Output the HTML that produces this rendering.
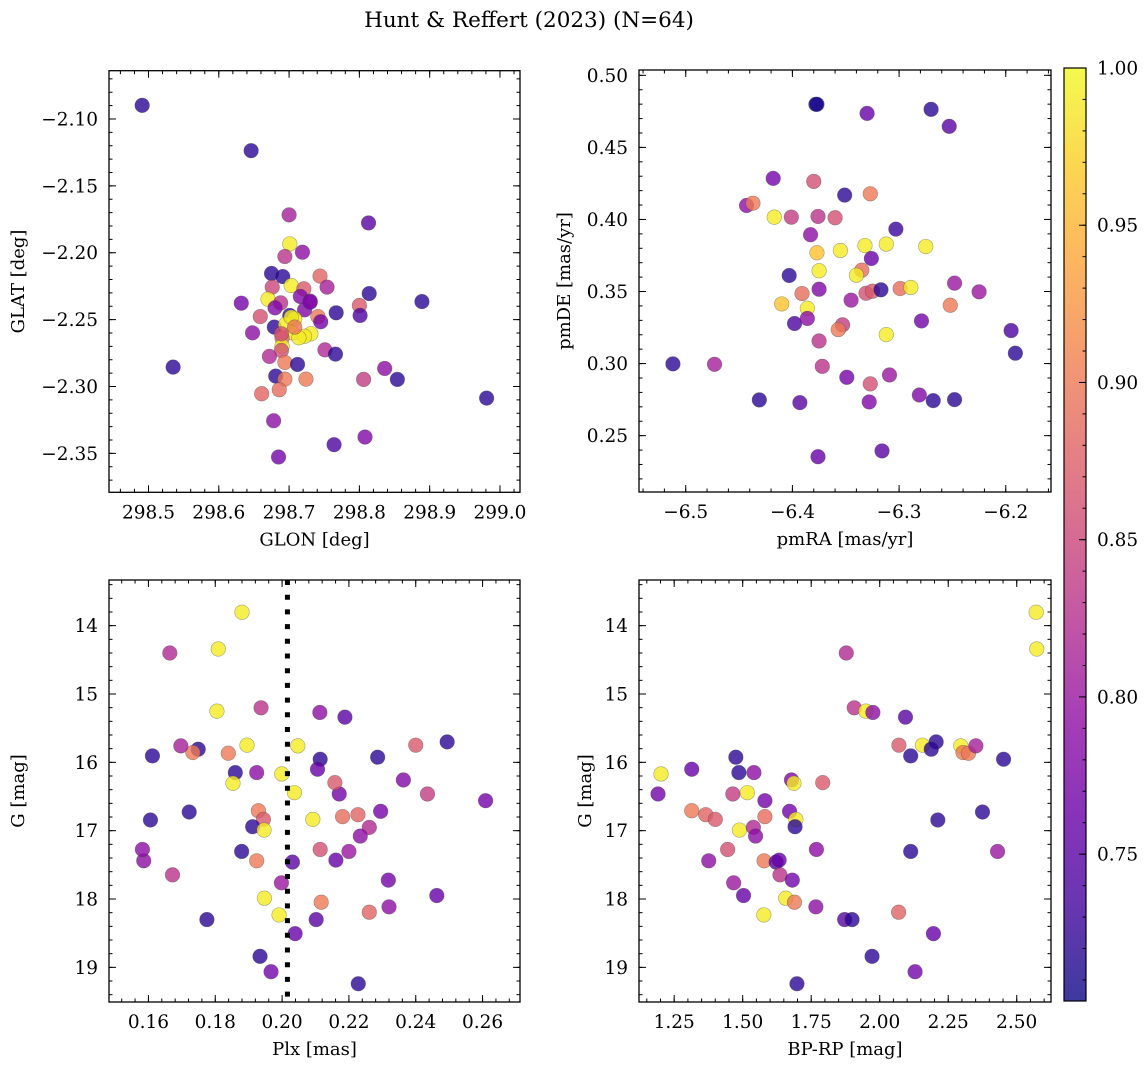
<!DOCTYPE html>
<html>
<head>
<meta charset="utf-8">
<style>
  html,body{margin:0;padding:0;background:#fff;}
  svg{display:block;font-family:"DejaVu Serif","Liberation Serif",serif;}
</style>
</head>
<body>
<svg id="fig" width="1148" height="1068" viewBox="0 0 1148 1068" xmlns="http://www.w3.org/2000/svg">
  <text x="529" y="27" font-size="21.5" text-anchor="middle">Hunt &amp; Reffert (2023) (N=64)</text>
</svg>
<script>
// ---------- Panel 1: GLON / GLAT ----------
const glon = [298.491,298.646,298.700,298.813,298.701,298.719,298.694,298.675,298.691,298.744,298.703,298.676,298.721,298.754,298.814,298.889,298.632,298.670,298.688,298.716,298.730,298.680,298.722,298.800,298.801,298.767,298.659,298.701,298.708,298.741,298.745,298.679,298.695,298.648,298.705,298.731,298.722,298.714,298.690,298.690,298.689,298.751,298.766,298.672,298.694,298.712,298.535,298.836,298.681,298.694,298.724,298.806,298.854,298.686,298.661,298.981,298.678,298.808,298.764,298.685,298.703,298.708,298.730,298.689];
const glat = [-2.0898,-2.1237,-2.1717,-2.1777,-2.1934,-2.1996,-2.2028,-2.2155,-2.2178,-2.2175,-2.2245,-2.2257,-2.2270,-2.2257,-2.2305,-2.2365,-2.2377,-2.2347,-2.2375,-2.2327,-2.2362,-2.2412,-2.2427,-2.2394,-2.2469,-2.2449,-2.2477,-2.2469,-2.2494,-2.2477,-2.2516,-2.2556,-2.2536,-2.2599,-2.2599,-2.2606,-2.2624,-2.2636,-2.2638,-2.2698,-2.2731,-2.2726,-2.2758,-2.2775,-2.2820,-2.2835,-2.2855,-2.2865,-2.2922,-2.2945,-2.2945,-2.2947,-2.2947,-2.3024,-2.3054,-2.3087,-2.3256,-2.3378,-2.3435,-2.3527,-2.2482,-2.2556,-2.2370,-2.2606];
const prob1 = [0.72,0.72,0.81,0.75,0.99,0.79,0.83,0.72,0.72,0.88,0.99,0.85,0.87,0.81,0.72,0.72,0.77,0.99,0.83,0.78,0.78,0.78,0.78,0.87,0.74,0.72,0.86,0.72,0.99,0.90,0.77,0.72,0.99,0.79,0.99,0.99,0.99,0.99,0.89,0.99,0.86,0.82,0.72,0.82,0.90,0.72,0.72,0.79,0.72,0.90,0.90,0.84,0.72,0.89,0.88,0.72,0.79,0.78,0.74,0.77,0.99,0.90,0.78,0.86];

// ---------- Panel 2: pmRA / pmDE ----------
const pmra = [-6.378,-6.377,-6.330,-6.270,-6.253,-6.418,-6.380,-6.351,-6.327,-6.443,-6.437,-6.417,-6.401,-6.376,-6.360,-6.303,-6.383,-6.377,-6.355,-6.332,-6.312,-6.275,-6.326,-6.375,-6.335,-6.403,-6.340,-6.391,-6.375,-6.331,-6.325,-6.317,-6.299,-6.289,-6.248,-6.225,-6.345,-6.410,-6.386,-6.252,-6.398,-6.386,-6.353,-6.357,-6.312,-6.279,-6.195,-6.191,-6.512,-6.473,-6.375,-6.372,-6.349,-6.309,-6.327,-6.431,-6.393,-6.328,-6.281,-6.268,-6.248,-6.376,-6.316];
const pmde = [0.4799,0.4799,0.4736,0.4764,0.4646,0.4285,0.4264,0.4169,0.4178,0.4097,0.4113,0.4016,0.4016,0.4021,0.4012,0.3933,0.3894,0.3769,0.3785,0.3819,0.3829,0.3812,0.3729,0.3644,0.3648,0.3611,0.3613,0.3486,0.3516,0.3488,0.3502,0.3512,0.3521,0.3528,0.3558,0.3498,0.3440,0.3414,0.3384,0.3405,0.3278,0.3313,0.3269,0.3236,0.3201,0.3296,0.3229,0.3072,0.2998,0.2995,0.3157,0.2981,0.2905,0.2921,0.2859,0.2748,0.2729,0.2734,0.2782,0.2743,0.2750,0.2354,0.2394];
const prob2 = [0.71,0.71,0.76,0.72,0.75,0.77,0.86,0.72,0.90,0.79,0.90,0.99,0.84,0.83,0.86,0.73,0.79,0.96,0.99,0.99,0.99,0.99,0.76,0.99,0.89,0.72,0.99,0.89,0.78,0.86,0.87,0.72,0.89,0.99,0.80,0.80,0.80,0.96,0.99,0.90,0.74,0.79,0.84,0.90,0.99,0.77,0.74,0.72,0.72,0.81,0.83,0.83,0.77,0.80,0.86,0.72,0.75,0.78,0.78,0.72,0.72,0.76,0.75];

// ---------- Panels 3/4: shared stars ----------
const gmag = [13.804,14.342,14.400,15.202,15.251,15.270,15.339,15.749,15.749,15.701,15.808,15.906,15.759,15.857,15.867,15.759,15.955,16.170,16.463,16.101,15.925,16.150,16.150,16.258,16.307,16.297,16.463,16.444,16.561,16.708,16.766,16.835,16.795,16.717,16.835,16.942,16.991,16.952,17.079,16.844,16.727,17.275,17.441,17.441,17.460,17.431,17.646,17.724,17.275,17.304,17.304,17.763,17.949,17.988,18.047,18.233,18.115,18.301,18.301,18.193,18.507,18.839,19.064,19.240];
const plx = [0.1880,0.1809,0.1664,0.1937,0.1805,0.2113,0.2188,0.2400,0.1895,0.2494,0.1749,0.1612,0.2047,0.1733,0.1839,0.1697,0.2114,0.1999,0.2171,0.2106,0.2286,0.1860,0.1924,0.2363,0.1853,0.2158,0.2435,0.2037,0.2609,0.1929,0.2227,0.1944,0.2181,0.2295,0.2092,0.1912,0.1946,0.2261,0.2234,0.1606,0.1722,0.2114,0.1586,0.1924,0.2031,0.2161,0.1672,0.2318,0.1582,0.1879,0.2200,0.1998,0.2463,0.1947,0.2117,0.1991,0.2320,0.2102,0.1775,0.2261,0.2039,0.1934,0.1967,0.2228];
const bprp = [2.571,2.573,1.878,1.907,1.949,1.975,2.094,2.070,2.156,2.206,2.188,2.113,2.296,2.304,2.324,2.351,2.452,1.202,1.191,1.314,1.475,1.486,1.541,1.678,1.687,1.792,1.464,1.517,1.581,1.314,1.365,1.400,1.581,1.671,1.694,1.691,1.488,1.539,1.547,2.212,2.375,1.445,1.376,1.578,1.622,1.633,1.636,1.681,1.769,2.113,2.430,1.467,1.503,1.657,1.689,1.577,1.767,1.872,1.899,2.069,2.196,1.972,2.129,1.698];
const prob = [0.99,0.99,0.82,0.83,0.99,0.79,0.75,0.87,0.99,0.72,0.72,0.72,0.99,0.90,0.90,0.81,0.72,0.99,0.77,0.76,0.72,0.72,0.79,0.78,0.99,0.87,0.84,0.99,0.77,0.90,0.88,0.87,0.89,0.77,0.99,0.72,0.99,0.82,0.79,0.72,0.72,0.86,0.79,0.90,0.75,0.76,0.83,0.77,0.79,0.72,0.80,0.80,0.76,0.99,0.90,0.99,0.79,0.75,0.72,0.88,0.76,0.72,0.77,0.72];
const plxRef = [0.2016];

// ---------- tick arrays ----------
const glonTicks = [298.5,298.6,298.7,298.8,298.9,299.0];
const glatTicks = [-2.10,-2.15,-2.20,-2.25,-2.30,-2.35];
const pmraTicks = [-6.5,-6.4,-6.3,-6.2];
const pmdeTicks = [0.25,0.30,0.35,0.40,0.45,0.50];
const plxTicks = [0.16,0.18,0.20,0.22,0.24,0.26];
const gTicks = [14,15,16,17,18,19];
const bprpTicks = [1.25,1.50,1.75,2.00,2.25,2.50];
const cbarTicks = [0.75,0.80,0.85,0.90,0.95,1.00];
const cmin = 0.7033, cmax = 1.0;

const NS = "http://www.w3.org/2000/svg";
const svg = document.getElementById('fig');
function mk(tag, attrs, parent){
  const e = document.createElementNS(NS, tag);
  for (const k in attrs) e.setAttribute(k, attrs[k]);
  (parent||svg).appendChild(e);
  return e;
}
const stops = [[13,8,135],[65,4,157],[106,0,168],[143,13,164],[177,42,144],[204,71,120],[225,100,98],[242,132,75],[252,166,54],[252,206,37],[240,249,33]];
function plasma(t){
  t = Math.max(0, Math.min(1, t));
  const f = t*10, i = Math.min(9, Math.floor(f)), r = f - i;
  const a = stops[i], b = stops[i+1];
  return `rgb(${Math.round(a[0]+(b[0]-a[0])*r)},${Math.round(a[1]+(b[1]-a[1])*r)},${Math.round(a[2]+(b[2]-a[2])*r)})`;
}
function fmt(v, d){ return v.toFixed(d).replace('-', '\u2212'); }

function panel(cfg){
  const {name, L, R, T, B, xmin, xmax, ymin, ymax} = cfg;
  const sx = v => L + (v - xmin) / (xmax - xmin) * (R - L);
  const sy = v => T + (v - ymin) / (ymax - ymin) * (B - T);
  const g = mk('g', {});
  
  
  const clipId = name + '-clip';
  const cp = mk('clipPath', {id: clipId}, g);
  mk('rect', {x: L, y: T, width: R-L, height: B-T}, cp);
  const pts = mk('g', {'clip-path': `url(#${clipId})`}, g);
  
  
  for (let i = 0; i < cfg.xs.length; i++) {
    const c = mk('circle', {cx: sx(cfg.xs[i]), cy: sy(cfg.ys[i]), r: 7.3, fill: plasma((cfg.ps[i]-cmin)/(cmax-cmin)), 'fill-opacity': 0.8, stroke: 'rgba(60,60,60,0.45)', 'stroke-width': 0.6}, pts);
    
    
  }
  if (cfg.vline) {
    const ln = mk('line', {x1: sx(cfg.vline), x2: sx(cfg.vline), y1: T, y2: B, stroke: '#000', 'stroke-width': 5, 'stroke-dasharray': '5 9.7'}, pts);
    
    
  }
  const fr = mk('rect', {x: L, y: T, width: R-L, height: B-T, fill: 'none', stroke: '#000', 'stroke-width': 1.3}, g);
  
  
  const tk = mk('g', {stroke: '#000', 'stroke-width': 1}, g);
  const lo = Math.min(xmin, xmax), hi = Math.max(xmin, xmax);
  for (let v = Math.ceil(lo/cfg.xminor - 1e-6)*cfg.xminor; v <= hi + 1e-9; v += cfg.xminor) {
    const x = sx(v);
    mk('line', {x1: x, x2: x, y1: B, y2: B-3.5}, tk);
    mk('line', {x1: x, x2: x, y1: T, y2: T+3.5}, tk);
  }
  const ylo = Math.min(ymin, ymax), yhi = Math.max(ymin, ymax);
  for (let v = Math.ceil(ylo/cfg.yminor - 1e-6)*cfg.yminor; v <= yhi + 1e-9; v += cfg.yminor) {
    const y = sy(v);
    mk('line', {x1: L, x2: L+3.5, y1: y, y2: y}, tk);
    mk('line', {x1: R, x2: R-3.5, y1: y, y2: y}, tk);
  }
  cfg.xt.forEach(v => {
    const x = sx(v);
    mk('line', {x1: x, x2: x, y1: B, y2: B-7}, tk);
    mk('line', {x1: x, x2: x, y1: T, y2: T+7}, tk);
    const t = mk('text', {x: x, y: B+26, 'font-size': 18.5, 'text-anchor': 'middle'}, g);
    t.textContent = fmt(v, cfg.xd);
    
    
  });
  cfg.yt.forEach(v => {
    const y = sy(v);
    mk('line', {x1: L, x2: L+7, y1: y, y2: y}, tk);
    mk('line', {x1: R, x2: R-7, y1: y, y2: y}, tk);
    const t = mk('text', {x: L-11, y: y+6.5, 'font-size': 18.5, 'text-anchor': 'end'}, g);
    t.textContent = fmt(v, cfg.yd);
    
    
  });
  const xl = mk('text', {x: (L+R)/2, y: B+53, 'font-size': 18, 'text-anchor': 'middle'}, g);
  xl.textContent = cfg.xlabel;
  
  
  const yl = mk('text', {x: 0, y: 0, 'font-size': 18, 'text-anchor': 'middle', transform: `translate(${cfg.ylx},${(T+B)/2}) rotate(-90)`}, g);
  yl.textContent = cfg.ylabel;
  
  
}

panel({name:'glon-glat-panel', L:109, R:520, T:70.7, B:492.3, xmin:298.4438, xmax:299.0285, ymin:-2.0639, ymax:-2.3791,
  xs:glon, ys:glat, ps:prob1, xt:glonTicks, yt:glatTicks, xd:1, yd:2, xminor:0.02, yminor:0.01,
  xlabel:'GLON [deg]', ylabel:'GLAT [deg]', ylx:24});
panel({name:'pm-panel', L:639, R:1051, T:70, B:492, xmin:-6.5438, xmax:-6.1576, ymin:0.5037, ymax:0.2109,
  xs:pmra, ys:pmde, ps:prob2, xt:pmraTicks, yt:pmdeTicks, xd:1, yd:2, xminor:0.02, yminor:0.01,
  xlabel:'pmRA [mas/yr]', ylabel:'pmDE [mas/yr]', ylx:570});
panel({name:'plx-g-panel', L:109, R:520, T:580, B:1002, xmin:0.1482, xmax:0.2712, ymin:13.332, ymax:19.507,
  xs:plx, ys:gmag, ps:prob, xt:plxTicks, yt:gTicks, xd:2, yd:0, xminor:0.004, yminor:0.2,
  xlabel:'Plx [mas]', ylabel:'G [mag]', ylx:24, vline: plxRef[0]});
panel({name:'cmd-panel', L:639, R:1051, T:580, B:1002, xmin:1.1216, xmax:2.625, ymin:13.332, ymax:19.507,
  xs:bprp, ys:gmag, ps:prob, xt:bprpTicks, yt:gTicks, xd:2, yd:0, xminor:0.05, yminor:0.2,
  xlabel:'BP-RP [mag]', ylabel:'G [mag]', ylx:591});

// ---------- colorbar ----------
(function(){
  const L = 1064, R = 1086, T = 68, B = 1001;
  const sy = v => B - (v - cmin) / (cmax - cmin) * (B - T);
  const g = mk('g', {});
  
  
  const defs = mk('defs', {}, g);
  const lg = mk('linearGradient', {id: 'cbgrad', x1: 0, y1: 1, x2: 0, y2: 0}, defs);
  for (let i = 0; i <= 20; i++) mk('stop', {offset: i/20, 'stop-color': plasma(i/20)}, lg);
  mk('rect', {x: L, y: T, width: R-L, height: B-T, fill: 'url(#cbgrad)', 'fill-opacity': 0.8}, g);
  mk('rect', {x: L, y: T, width: R-L, height: B-T, fill: 'none', stroke: '#000', 'stroke-width': 1.2}, g);
  const tk = mk('g', {stroke: '#000', 'stroke-width': 1}, g);
  for (let v = 0.71; v <= 1.0001; v += 0.01) {
    const y = sy(v);
    mk('line', {x1: R, x2: R-3.5, y1: y, y2: y}, tk);
  }
  cbarTicks.forEach(v => {
    const y = sy(v);
    mk('line', {x1: R, x2: R-7, y1: y, y2: y}, tk);
    const t = mk('text', {x: R+11, y: y+6.5, 'font-size': 18.5}, g);
    t.textContent = v.toFixed(2);
    
    
  });
})();
</script>
</body>
</html>
